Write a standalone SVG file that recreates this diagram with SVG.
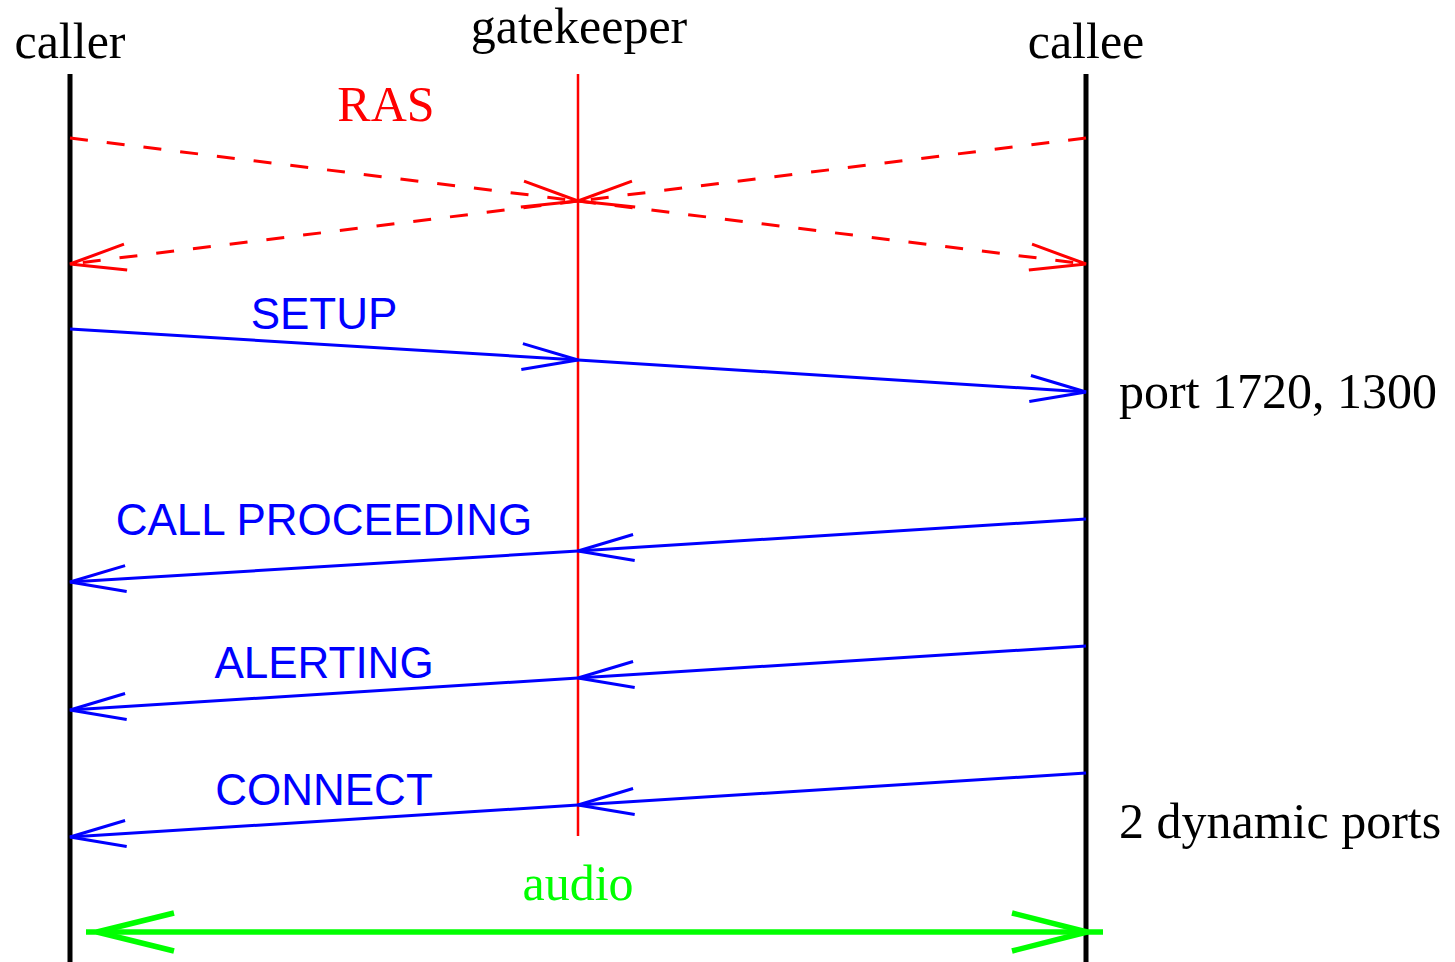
<svg xmlns="http://www.w3.org/2000/svg" width="1455" height="962" viewBox="0 0 1455 962">
  <style>
    .serif { font-family: "Liberation Serif", "Times New Roman", serif; font-size: 50px; }
    .sans { font-family: "Liberation Sans", Arial, sans-serif; font-size: 44px; fill: #0000ff; }
    .life { stroke: #000000; stroke-width: 5; fill: none; }
    .ras { stroke: #ff0000; stroke-width: 3; stroke-dasharray: 18 19; fill: none; }
    .msg { stroke: #0000ff; stroke-width: 3; fill: none; }
    .media { stroke: #00ff00; stroke-width: 5.5; fill: none; }
  </style>
  <defs>
    <marker id="openRed" markerUnits="userSpaceOnUse" orient="auto" refX="0" refY="0" markerWidth="1" markerHeight="1" overflow="visible">
      <path d="M-56,-13 L0,0 L-56,13" fill="none" stroke="#ff0000" stroke-width="3"/>
    </marker>
    <marker id="openBlue" markerUnits="userSpaceOnUse" orient="auto" refX="0" refY="0" markerWidth="1" markerHeight="1" overflow="visible">
      <path d="M-56,-13 L0,0 L-56,13" fill="none" stroke="#0000ff" stroke-width="3"/>
    </marker>
  </defs>
  <rect width="1455" height="962" fill="#ffffff"/>

  <g id="caller">
    <line class="life" x1="70" y1="74" x2="70" y2="962"/>
    <text class="serif" x="70" y="58" text-anchor="middle">caller</text>
  </g>

  <g id="gatekeeper">
    <line x1="578" y1="74" x2="578" y2="836" stroke="#ff0000" stroke-width="2.5"/>
    <text class="serif" x="579" y="43" text-anchor="middle">gatekeeper</text>
  </g>

  <g id="callee">
    <line class="life" x1="1086" y1="74" x2="1086" y2="962"/>
    <text class="serif" x="1086" y="58" text-anchor="middle">callee</text>
    <text class="serif" x="1119" y="408">port 1720, 1300</text>
    <text class="serif" x="1119" y="838">2 dynamic ports</text>
  </g>

  <g id="connectors">
    <!-- RAS exchange via the gatekeeper -->
    <text class="serif" x="386" y="121" text-anchor="middle" fill="#ff0000">RAS</text>
    <line class="ras" x1="70" y1="138" x2="578" y2="201" marker-end="url(#openRed)"/>
    <line class="ras" x1="1086" y1="138" x2="578" y2="201" marker-end="url(#openRed)"/>
    <line class="ras" x1="578" y1="201" x2="70" y2="264" marker-end="url(#openRed)"/>
    <line class="ras" x1="578" y1="201" x2="1086" y2="264" marker-end="url(#openRed)"/>

    <!-- Q.931 call signalling -->
    <text class="sans" x="324" y="329" text-anchor="middle">SETUP</text>
    <line class="msg" x1="70" y1="329" x2="578" y2="360" marker-end="url(#openBlue)"/>
    <line class="msg" x1="578" y1="360" x2="1086" y2="392" marker-end="url(#openBlue)"/>

    <text class="sans" x="324" y="535" text-anchor="middle">CALL PROCEEDING</text>
    <line class="msg" x1="1086" y1="519" x2="578" y2="551" marker-end="url(#openBlue)"/>
    <line class="msg" x1="578" y1="551" x2="70" y2="582" marker-end="url(#openBlue)"/>

    <text class="sans" x="324" y="678" text-anchor="middle">ALERTING</text>
    <line class="msg" x1="1086" y1="646" x2="578" y2="678" marker-end="url(#openBlue)"/>
    <line class="msg" x1="578" y1="678" x2="70" y2="710" marker-end="url(#openBlue)"/>

    <text class="sans" x="324" y="805" text-anchor="middle">CONNECT</text>
    <line class="msg" x1="1086" y1="773" x2="578" y2="805" marker-end="url(#openBlue)"/>
    <line class="msg" x1="578" y1="805" x2="70" y2="837" marker-end="url(#openBlue)"/>

    <!-- media stream -->
    <text class="serif" x="578" y="900" text-anchor="middle" fill="#00ff00">audio</text>
    <line class="media" x1="86" y1="932" x2="1103" y2="932"/>
    <polyline class="media" points="174,913 97,932 174,951"/>
    <polyline class="media" points="1012,913 1087,932 1012,951"/>
  </g>
</svg>
